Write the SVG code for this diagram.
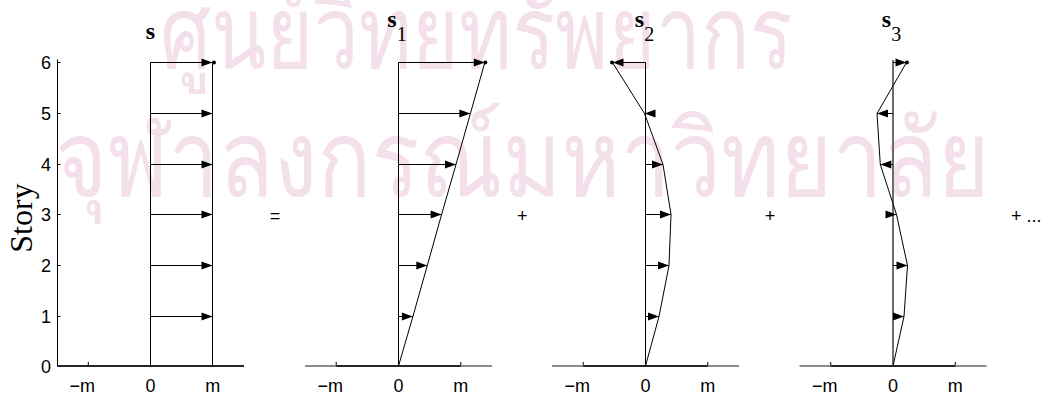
<svg xmlns="http://www.w3.org/2000/svg" width="1048" height="395" viewBox="0 0 1048 395">
<style>
.ln{stroke:#000;stroke-width:1;fill:none}
.ar{stroke:#000;stroke-width:1;fill:none;marker-end:url(#ah)}
.tk{font-family:"Liberation Sans",Arial,sans-serif;font-size:18px;fill:#000}
.ttl{font-family:"Liberation Serif","Times New Roman",serif;fill:#000}
.wm{font-family:"Loma","Garuda","Noto Sans Thai Looped","Noto Sans Thai","Noto Sans","DejaVu Sans",sans-serif;fill:#f4e0ea}
.ax{stroke:#262626;stroke-width:2}
.axg{stroke:#8c8c8c;stroke-width:2}
</style>
<defs>
<marker id="ah" markerUnits="userSpaceOnUse" markerWidth="11" markerHeight="8" viewBox="0 0 11 8" refX="11" refY="4" orient="auto" overflow="visible"><path d="M0,0L11,4L0,8z" fill="#000"/></marker>
</defs>
<g id="watermark">
<text class="wm" x="160" y="68" font-size="100" textLength="633" lengthAdjust="spacingAndGlyphs">ศูนย์วิทยทรัพยากร</text>
<text class="wm" x="55" y="196" font-size="106" textLength="935" lengthAdjust="spacingAndGlyphs">จุฬาลงกรณ์มหาวิทยาลัย</text>
</g>
<g id="ylabel"><text class="ttl" font-size="32" text-anchor="middle" transform="translate(31.5,218) rotate(-90)">Story</text></g>
<g id="panel-s">
<line class="ax" x1="57" y1="366" x2="244" y2="366"/>
<line class="ln" x1="57.5" y1="59.5" x2="57.5" y2="366"/>
<path class="ln" d="M57.5,62.5h3M57.5,113.5h3M57.5,164.5h3M57.5,214.5h3M57.5,265.5h3M57.5,316.5h3M88.3,365v-3"/>
<g class="tk" text-anchor="end">
<text x="51" y="68.5">6</text><text x="51" y="119.5">5</text><text x="51" y="170.5">4</text><text x="51" y="220.5">3</text><text x="51" y="271.5">2</text><text x="51" y="322.5">1</text><text x="51" y="372.5">0</text>
</g>
<g class="tk" text-anchor="middle"><text x="82.3" y="391.5">−m</text><text x="150.5" y="391.5">0</text><text x="212.8" y="391.5">m</text></g>
<text class="ttl" x="150.5" y="39.3" font-size="24" font-weight="bold" text-anchor="middle">s</text>
<line class="ln" x1="150.5" y1="62.5" x2="150.5" y2="366"/>
<line class="ln" x1="212.5" y1="62.5" x2="212.5" y2="366"/>
<circle cx="214" cy="62.5" r="2"/>
</g>
<g id="panel-s1">
<line class="axg" x1="305" y1="366" x2="492" y2="366"/>
<line class="ax" x1="336.2" y1="366" x2="460.8" y2="366"/>
<path class="ln" d="M336.2,365v-3M460.8,365v-3"/>
<g class="tk" text-anchor="middle"><text x="330.2" y="391.5">−m</text><text x="398.5" y="391.5">0</text><text x="460.8" y="391.5">m</text></g>
<text class="ttl" x="397" y="26.7" text-anchor="middle"><tspan font-size="24" font-weight="bold">s</tspan><tspan font-size="20" dy="14">1</tspan></text>
<line class="ln" x1="398.5" y1="62.5" x2="398.5" y2="366"/>
<polyline class="ln" points="398.5,366 412.9,316.5 427.3,265.5 441.6,214.5 456,164.5 470.4,113.5 484.8,62.5"/>
<circle cx="485.3" cy="62.5" r="2"/>
</g>
<g id="panel-s2">
<line class="axg" x1="552" y1="366" x2="739" y2="366"/>
<line class="ax" x1="583.2" y1="366" x2="707.8" y2="366"/>
<path class="ln" d="M583.2,365v-3M707.8,365v-3"/>
<g class="tk" text-anchor="middle"><text x="577.2" y="391.5">−m</text><text x="645.5" y="391.5">0</text><text x="707.8" y="391.5">m</text></g>
<text class="ttl" x="644.5" y="26.7" text-anchor="middle"><tspan font-size="24" font-weight="bold">s</tspan><tspan font-size="20" dy="14">2</tspan></text>
<line class="ln" x1="645.5" y1="62.5" x2="645.5" y2="366"/>
<polyline class="ln" points="645.5,366 659,316.5 669,265.5 671,214.5 663,164.5 644.5,113.5 612.5,62.5"/>
<circle cx="612" cy="62.5" r="2"/>
</g>
<g id="panel-s3">
<line class="axg" x1="799.5" y1="366" x2="986.5" y2="366"/>
<line class="ax" x1="830.7" y1="366" x2="955.3" y2="366"/>
<path class="ln" d="M830.7,365v-3M955.3,365v-3"/>
<g class="tk" text-anchor="middle"><text x="824.7" y="391.5">−m</text><text x="893" y="391.5">0</text><text x="955.3" y="391.5">m</text></g>
<text class="ttl" x="891.5" y="26.7" text-anchor="middle"><tspan font-size="24" font-weight="bold">s</tspan><tspan font-size="20" dy="14">3</tspan></text>
<line x1="893" y1="60" x2="893" y2="366" stroke="#6e6e6e" stroke-width="2"/>
<polyline class="ln" points="893,366 904,316.5 907.5,265.5 896.5,214.5 880.3,164.5 877,113.5 906.5,62.5"/>
<circle cx="907" cy="62.5" r="2"/>
</g>
<g id="operators" class="tk">
<text x="275" y="222" text-anchor="middle">=</text>
<text x="522.3" y="222" text-anchor="middle">+</text>
<text x="770" y="222" text-anchor="middle">+</text>
<text x="1011" y="222">+ ...</text>
</g>
<g id="connectors">
<line class="ar" x1="150.5" y1="62.5" x2="212.5" y2="62.5"/>
<line class="ar" x1="150.5" y1="113.5" x2="212.5" y2="113.5"/>
<line class="ar" x1="150.5" y1="164.5" x2="212.5" y2="164.5"/>
<line class="ar" x1="150.5" y1="214.5" x2="212.5" y2="214.5"/>
<line class="ar" x1="150.5" y1="265.5" x2="212.5" y2="265.5"/>
<line class="ar" x1="150.5" y1="316.5" x2="212.5" y2="316.5"/>
<line class="ar" x1="398.5" y1="62.5" x2="484.8" y2="62.5"/>
<line class="ar" x1="398.5" y1="113.5" x2="470.4" y2="113.5"/>
<line class="ar" x1="398.5" y1="164.5" x2="456" y2="164.5"/>
<line class="ar" x1="398.5" y1="214.5" x2="441.6" y2="214.5"/>
<line class="ar" x1="398.5" y1="265.5" x2="427.3" y2="265.5"/>
<line class="ar" x1="398.5" y1="316.5" x2="412.9" y2="316.5"/>
<line class="ar" x1="645.5" y1="62.5" x2="612.5" y2="62.5"/>
<line class="ar" x1="645.5" y1="113.5" x2="644.5" y2="113.5"/>
<line class="ar" x1="645.5" y1="164.5" x2="663" y2="164.5"/>
<line class="ar" x1="645.5" y1="214.5" x2="671" y2="214.5"/>
<line class="ar" x1="645.5" y1="265.5" x2="669" y2="265.5"/>
<line class="ar" x1="645.5" y1="316.5" x2="659" y2="316.5"/>
<line class="ar" x1="893" y1="62.5" x2="906.5" y2="62.5"/>
<line class="ar" x1="893" y1="113.5" x2="877" y2="113.5"/>
<line class="ar" x1="893" y1="164.5" x2="880.3" y2="164.5"/>
<line class="ar" x1="893" y1="214.5" x2="896.5" y2="214.5"/>
<line class="ar" x1="893" y1="265.5" x2="907.5" y2="265.5"/>
<line class="ar" x1="893" y1="316.5" x2="904" y2="316.5"/>
</g>
</svg>
